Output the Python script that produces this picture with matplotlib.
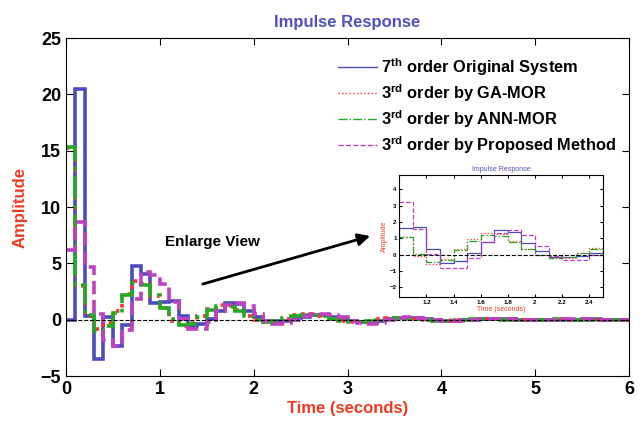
import numpy as np
import matplotlib
matplotlib.use('Agg')
import matplotlib.pyplot as plt
from matplotlib.lines import Line2D

plt.rcParams['font.family'] = 'Liberation Sans'
plt.rcParams['font.weight'] = 'bold'
plt.rcParams['mathtext.fontset'] = 'custom'
plt.rcParams['mathtext.bf'] = 'Liberation Sans:bold'
plt.rcParams['mathtext.rm'] = 'Liberation Sans:bold'

# sample time 0.1 s (t = 0.0 ... 5.9)
Ts = 0.1
original_7th = [0, 20.5, 0.3, -3.5, 0.2, -2.3, -0.5, 4.8, 4.1, 1.5,
                1.6, 1.7, 0.33, -0.53, -0.4, 0.08, 0.75, 1.5, 1.4, 0.73,
                0.22, -0.12, -0.15, -0.1, 0.12, 0.28, 0.38, 0.38, 0.25, 0.05,
                -0.1, -0.18, -0.17, -0.08, 0.03, 0.12, 0.15, 0.12, 0.05, -0.02,
                -0.07, -0.08, -0.06, -0.02, 0.02, 0.05, 0.05, 0.04, 0.01, -0.01,
                -0.03, -0.03, -0.02, 0.0, 0.01, 0.02, 0.02, 0.01, 0.0, -0.01]
ga_mor = [15.2, 3.0, 0.3, -0.8, -0.3, 0.8, 2.3, 3.4, 3.2, 2.1,
          1.05, -0.08, -0.55, -0.3, 0.33, 0.95, 1.3, 1.25, 0.85, 0.37,
          -0.05, -0.22, -0.18, 0.08, 0.43, 0.5, 0.48, 0.32, 0.1, -0.1,
          -0.2, -0.2, -0.1, 0.02, 0.12, 0.14, 0.1, 0.03, -0.04, -0.08,
          -0.07, -0.03, 0.01, 0.04, 0.05, 0.03, 0.0, -0.02, -0.03, -0.02,
          0.0, 0.01, 0.02, 0.01, 0.0, -0.01, -0.01, 0.0, 0.0, 0.01]
ann_mor = [15.3, 3.1, 0.4, -1.0, -0.6, 0.6, 2.2, 3.3, 3.1, 2.2,
           1.05, 0.02, -0.45, -0.35, 0.27, 0.85, 1.2, 1.15, 0.78, 0.33,
           0.0, -0.2, -0.15, 0.12, 0.33, 0.45, 0.45, 0.3, 0.1, -0.08,
           -0.18, -0.18, -0.1, 0.01, 0.1, 0.13, 0.1, 0.04, -0.03, -0.07,
           -0.07, -0.04, 0.0, 0.04, 0.05, 0.04, 0.01, -0.02, -0.03, -0.03,
           -0.01, 0.01, 0.02, 0.02, 0.01, -0.01, -0.01, -0.01, 0.0, 0.01]
proposed = [6.2, 8.7, 4.7, 0.5, -1.8, -2.3, -0.9, 1.8, 4.2, 4.0,
            3.2, 1.55, 0.02, -0.85, -0.85, -0.18, 0.75, 1.35, 1.5, 1.2,
            0.55, -0.08, -0.35, -0.33, 0.0, 0.3, 0.5, 0.55, 0.45, 0.2,
            -0.1, -0.3, -0.35, -0.25, -0.05, 0.12, 0.2, 0.18, 0.08, -0.04,
            -0.1, -0.12, -0.08, -0.02, 0.04, 0.07, 0.06, 0.03, -0.01, -0.04,
            -0.04, -0.03, 0.0, 0.02, 0.03, 0.02, 0.0, -0.01, -0.02, -0.01]

labels = [r'7$^{\mathbf{th}}$ order Original System',
          r'3$^{\mathbf{rd}}$ order by GA-MOR',
          r'3$^{\mathbf{rd}}$ order by ANN-MOR',
          r'3$^{\mathbf{rd}}$ order by Proposed Method']
colors = ['#4b4bbd', '#ff3030', '#22aa22', '#c040c0']
styles = ['-', ':', '-.', '--']
series = [original_7th, ga_mor, ann_mor, proposed]

edges = np.arange(len(original_7th) + 1) * Ts

fig = plt.figure(figsize=(6.4, 4.23), dpi=100)
ax = fig.add_axes([0.103, 0.111, 0.880, 0.799])

for y, c, ls in zip(series, colors, styles):
    ax.stairs(y, edges, baseline=None, color=c, linestyle=ls, linewidth=2.6)
ax.plot([0, 6], [0, 0], 'k--', linewidth=0.8)

ax.set_xlim(0, 6)
ax.set_ylim(-5, 25)
ax.set_xticks(range(0, 7))
ax.set_yticks(range(-5, 26, 5))
ax.tick_params(direction='in', top=True, right=True, labelsize=13, length=5)
ax.set_title('Impulse Response', color='#5050c0', fontsize=12, fontweight='bold', pad=8)
ax.set_xlabel('Time (seconds)', color='#f03a20', fontsize=12, fontweight='bold', labelpad=2)
ax.set_ylabel('Amplitude', color='#f03a20', fontsize=12, fontweight='bold', labelpad=9)

handles = [Line2D([0], [0], color=c, linestyle=ls, linewidth=1.0) for c, ls in zip(colors, styles)]
ax.legend(handles, labels, loc='upper left', bbox_to_anchor=(0.528, 0.868), bbox_transform=fig.transFigure,
          frameon=False, handlelength=2.4, handletextpad=0.25, labelspacing=0.27, borderpad=0,
          borderaxespad=0, prop={'weight': 'bold', 'size': 11.8})

ax.annotate('', xy=(3.27, 7.5), xytext=(1.43, 3.1),
            arrowprops=dict(arrowstyle='-|>', color='k', lw=2, mutation_scale=18))
ax.text(1.56, 6.9, 'Enlarge View', ha='center', va='center', fontsize=11, fontweight='bold')

# enlarged view
axin = fig.add_axes([0.624, 0.298, 0.318, 0.289])
for y, c, ls in zip(series, colors, styles):
    axin.stairs(y, edges, baseline=None, color=c, linestyle=ls, linewidth=0.9)
axin.plot([0, 6], [0, 0], 'k--', linewidth=0.8)
axin.set_xlim(1.0, 2.5)
axin.set_ylim(-2.6, 4.9)
axin.set_xticks([1.2, 1.4, 1.6, 1.8, 2.0, 2.2, 2.4])
axin.set_xticklabels(['1.2', '1.4', '1.6', '1.8', '2', '2.2', '2.4'])
axin.set_yticks(range(-2, 5))
axin.tick_params(direction='in', top=True, right=True, labelsize=4.5, length=2, pad=2)
axin.set_title('Impulse Response', color='#5050c0', fontsize=5, pad=3)
axin.set_xlabel('Time (seconds)', color='#f03a20', fontsize=5, labelpad=1)
axin.set_ylabel('Amplitude', color='#f03a20', fontsize=5, labelpad=1)

fig.savefig('out.png', dpi=100)
